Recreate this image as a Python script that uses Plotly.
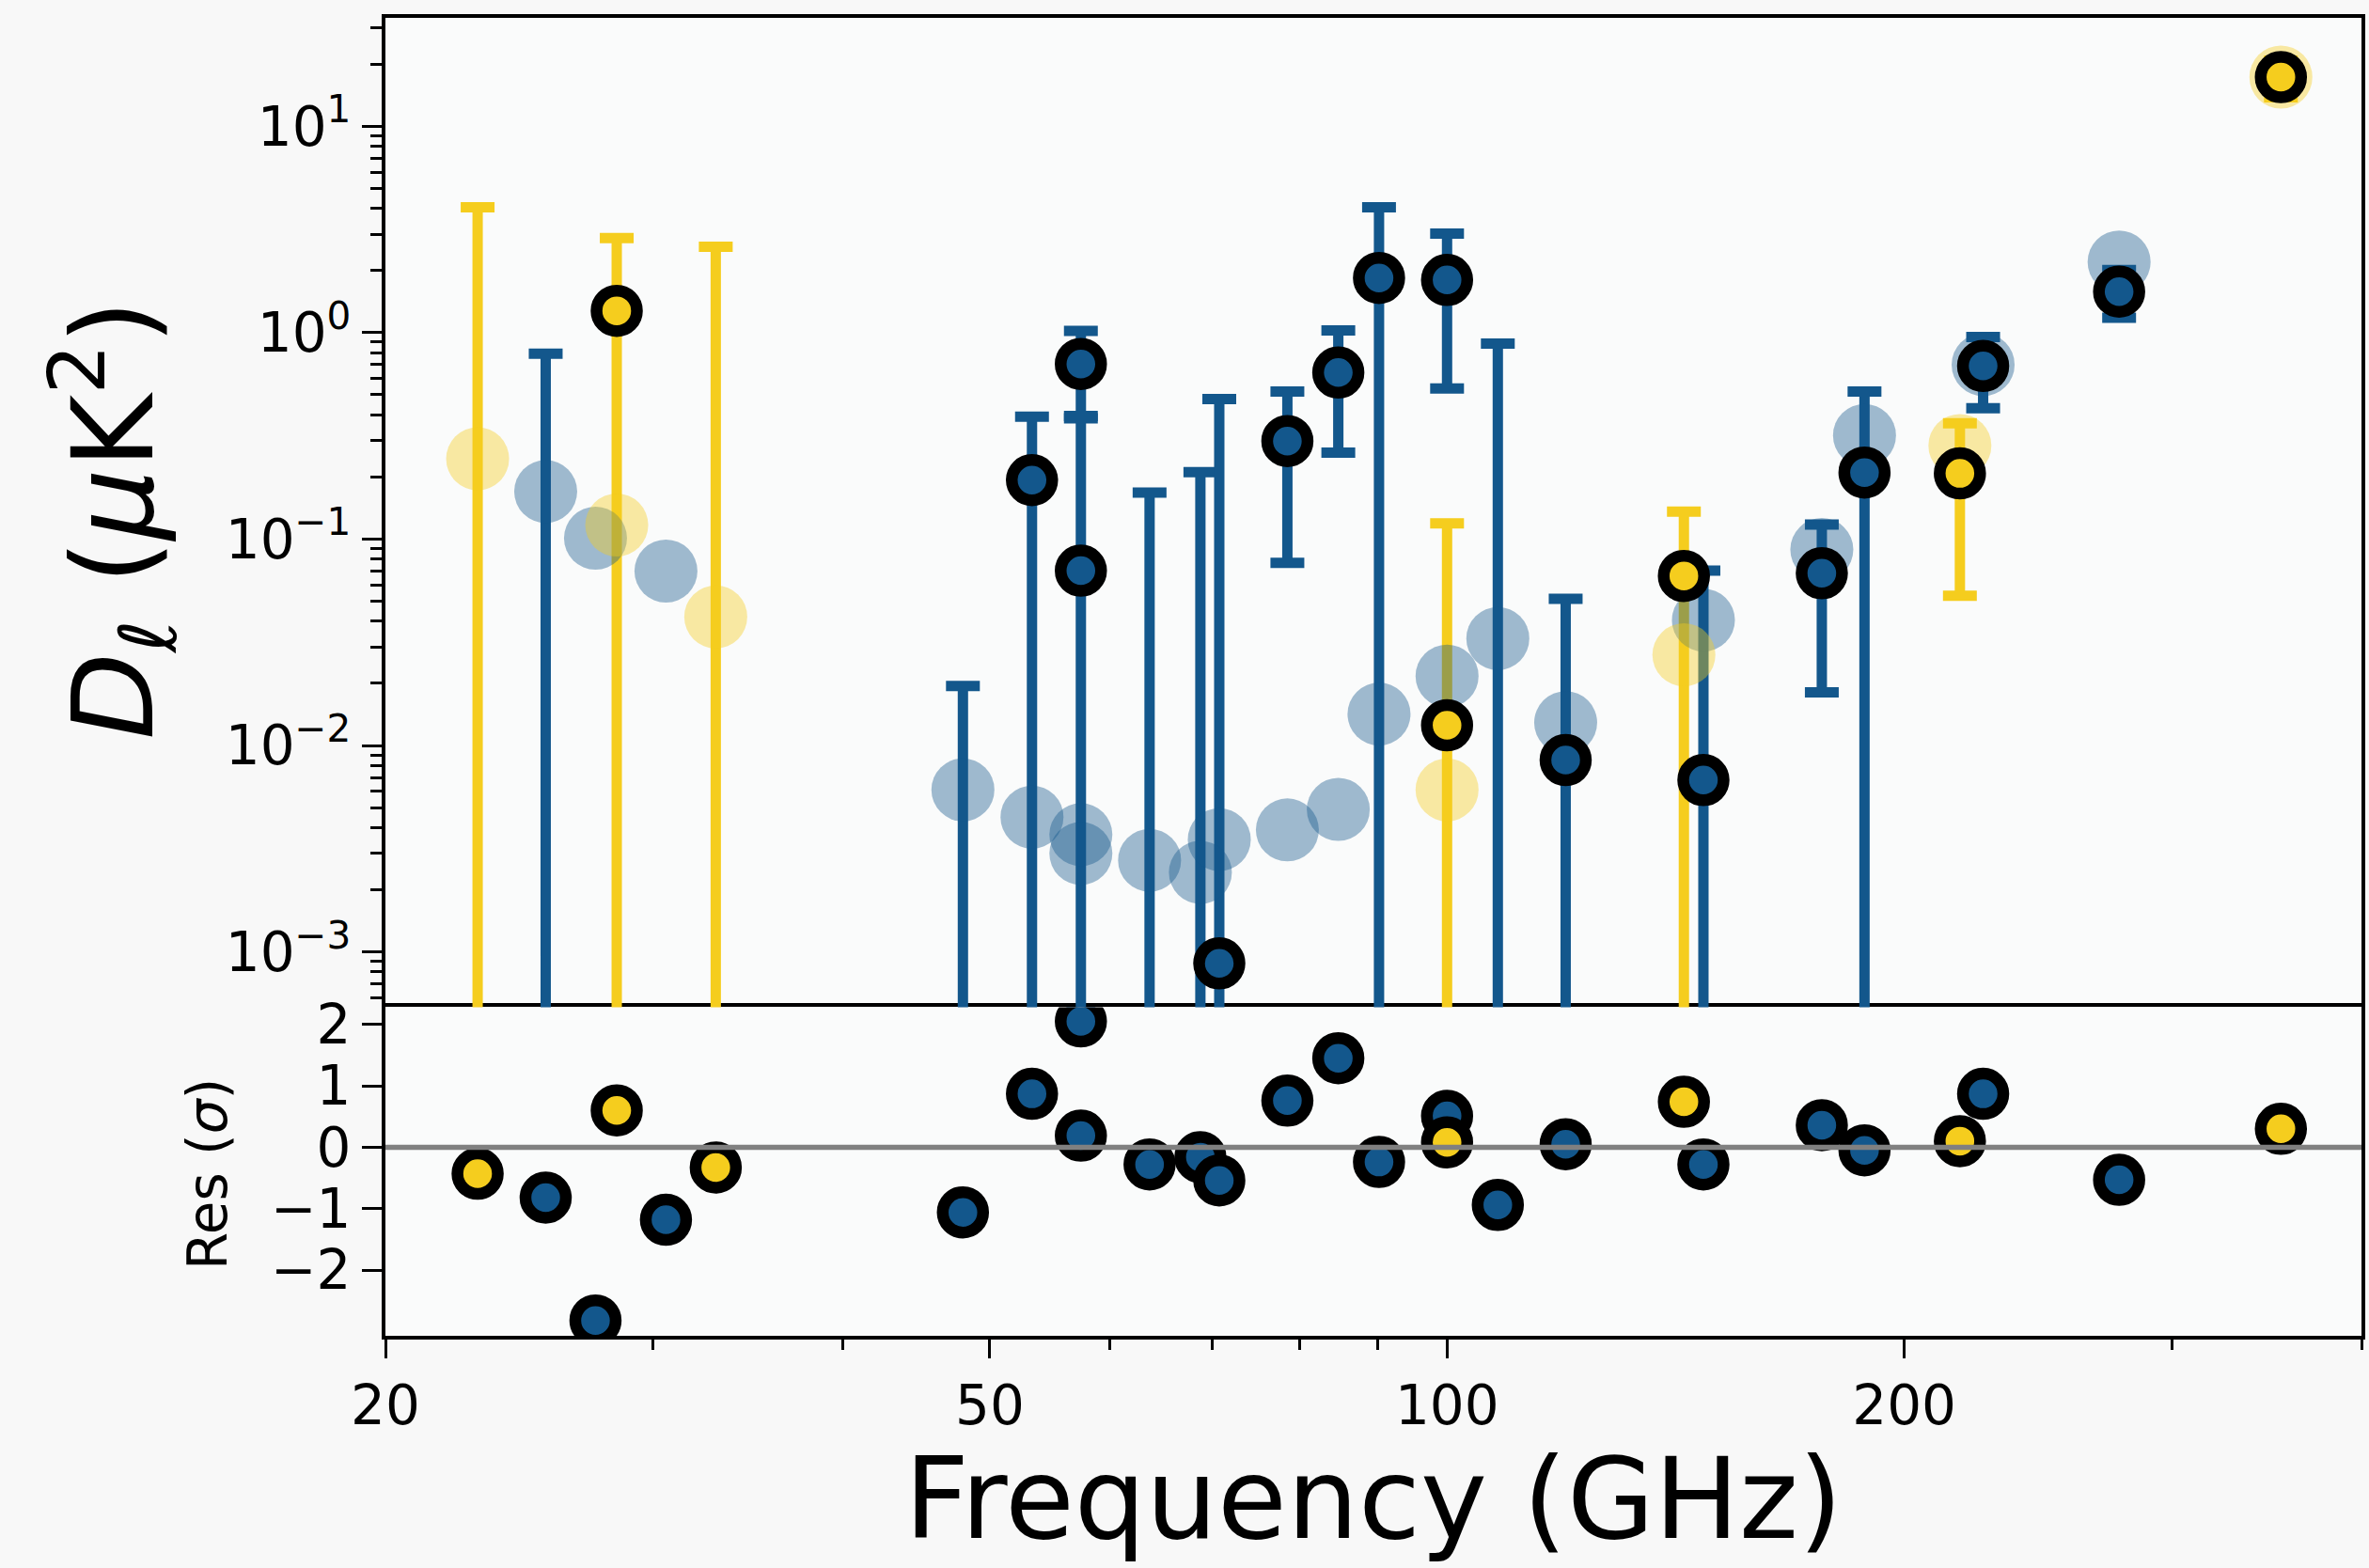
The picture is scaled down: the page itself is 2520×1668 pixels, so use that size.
import plotly.graph_objects as go

# ---------------- band powers: blue-coded bands ----------------
blue_freq = [25.5, 27.5, 30.6, 48.0, 53.3, 57.4, 57.4, 63.7, 68.8, 70.8, 78.5,
             84.8, 90.2, 100.0, 108.0, 119.7, 147.5, 176.5, 188.3, 225.4, 277.0]
# central value (None where it lies below zero / outside the log range)
blue_dl = [None, None, None, None, 0.193, 0.705, 0.0703, None, None, 0.00088, 0.2985,
           0.641, 1.84, 1.80, None, 0.0085, 0.0068, 0.0683, 0.21, 0.69, 1.58]
# top and bottom of the 1-sigma bar (0 = bar runs below zero)
blue_hi = [0.79, None, None, 0.0194, 0.392, 1.02, 0.395, 0.168, 0.211, 0.477, 0.518,
           1.026, 4.05, 3.02, 0.885, 0.0513, 0.0703, 0.1175, 0.518, 0.953, 2.01]
blue_lo = [0, None, None, 0, 0, 0.385, 0, 0, 0, 0, 0.0767,
           0.262, 0, 0.537, 0, 0, 0, 0.0181, 0, 0.431, 1.18]
blue_model = [0.170, 0.101, 0.070, 0.0061, 0.0045, 0.0030, 0.0037, 0.00278, 0.00243, 0.0035, 0.0039,
              0.0049, 0.0142, 0.0217, 0.033, 0.0129, 0.0405, 0.089, 0.318, 0.70, 2.20]
blue_res = [-0.82, -2.82, -1.18, -1.06, 0.87, 2.05, 0.19, -0.28, -0.16, -0.54, 0.76,
            1.45, -0.24, 0.51, -0.94, 0.05, -0.28, 0.36, -0.05, 0.87, -0.53]

# ---------------- band powers: yellow-coded bands ----------------
yellow_freq = [23.0, 28.4, 33.0, 100.0, 143.2, 217.6, 354.0]
yellow_dl = [None, 1.276, None, 0.01253, 0.0663, 0.208, 17.3]
yellow_hi = [4.05, 2.87, 2.61, 0.119, 0.136, 0.364, 20.8]
yellow_lo = [0, 0, 0, 0, 0, 0.0532, 13.8]
yellow_model = [0.245, 0.117, 0.042, 0.0061, 0.0275, 0.284, 17.3]
yellow_res = [-0.43, 0.60, -0.33, 0.08, 0.74, 0.10, 0.30]

# ---------------- axis ticks ----------------
x_major = [20, 50, 100, 200]
x_major_text = ["20", "50", "100", "200"]
x_minor = [30, 40, 60, 70, 80, 90, 300, 400]
dl_major = [1e-3, 1e-2, 1e-1, 1, 10]
dl_major_text = ["10<sup>−3</sup>", "10<sup>−2</sup>", "10<sup>−1</sup>",
                 "10<sup>0</sup>", "10<sup>1</sup>"]
res_major = [-2, -1, 0, 1, 2]

BLUE = "#13578c"
YELLOW = "#f5cd1e"
BLUE_T = "rgba(19,87,140,0.40)"
YELLOW_T = "rgba(245,205,30,0.40)"
FONT = "DejaVu Sans"


def bar_trace(freq, hi, lo, color):
    xs, ys, down = [], [], []
    for f, h, l in zip(freq, hi, lo):
        if h is None:
            continue
        xs.append(f)
        ys.append(h)
        down.append(h - l)
    return go.Scatter(
        x=xs, y=ys, mode="markers", xaxis="x2", yaxis="y2",
        marker=dict(size=1, color="rgba(0,0,0,0)"),
        error_y=dict(type="data", symmetric=False, array=[0] * len(xs),
                     arrayminus=down, color=color, thickness=11, width=18),
        hoverinfo="skip", showlegend=False)


def model_trace(freq, model, color):
    return go.Scatter(
        x=freq, y=model, mode="markers", xaxis="x2", yaxis="y2",
        marker=dict(size=67, color=color, line=dict(width=0)),
        showlegend=False)


def data_trace(freq, dl, color):
    xs = [f for f, d in zip(freq, dl) if d is not None]
    ys = [d for d in dl if d is not None]
    return go.Scatter(
        x=xs, y=ys, mode="markers", xaxis="x2", yaxis="y2",
        marker=dict(size=43, color=color, line=dict(color="black", width=12.5)),
        showlegend=False)


def res_trace(freq, res, color):
    return go.Scatter(
        x=freq, y=res, mode="markers", xaxis="x", yaxis="y",
        marker=dict(size=43, color=color, line=dict(color="black", width=12.5)),
        showlegend=False)


fig = go.Figure()
fig.add_trace(bar_trace(blue_freq, blue_hi, blue_lo, BLUE))
fig.add_trace(bar_trace(yellow_freq, yellow_hi, yellow_lo, YELLOW))
fig.add_trace(model_trace(blue_freq, blue_model, BLUE_T))
fig.add_trace(model_trace(yellow_freq, yellow_model, YELLOW_T))
fig.add_trace(data_trace(blue_freq, blue_dl, BLUE))
fig.add_trace(data_trace(yellow_freq, yellow_dl, YELLOW))
fig.add_trace(res_trace(blue_freq, blue_res, BLUE))
fig.add_trace(res_trace(yellow_freq, yellow_res, YELLOW))

line_common = dict(linecolor="black", linewidth=4, showgrid=False, zeroline=False,
                   tickcolor="black", tickwidth=3)
tick_font = dict(family=FONT, size=58, color="black")

split = 0.2493
fig.update_layout(
    width=2520, height=1668,
    margin=dict(l=410, r=4, t=15, b=247, pad=0),
    paper_bgcolor="#f8f8f8", plot_bgcolor="#fafbfb",
    font=dict(family=FONT, color="black"),
    # residual panel frequency axis (draws the shared panel divider as its top line)
    xaxis=dict(type="log", range=[1.30103, 2.60206], domain=[0, 1], anchor="y",
               showline=True, mirror=True,
               tickmode="array", tickvals=x_major, ticktext=x_major_text,
               ticks="outside", ticklen=20, tickfont=tick_font,
               minor=dict(tickmode="array", tickvals=x_minor, ticks="outside",
                          ticklen=11, tickwidth=3, tickcolor="black", showgrid=False),
               **line_common),
    # band-power panel frequency axis: only the top frame line
    xaxis2=dict(type="log", range=[1.30103, 2.60206], domain=[0, 1], anchor="y2",
                matches="x", side="top", showline=True, mirror=False,
                showticklabels=False, ticks="", **line_common),
    yaxis=dict(range=[-3.07, 2.28], domain=[0, split], anchor="x",
               showline=True, mirror=True,
               tickmode="array", tickvals=res_major, ticks="outside", ticklen=21,
               tickfont=tick_font, **line_common),
    yaxis2=dict(type="log", range=[-3.268, 1.525], domain=[split, 1], anchor="x2",
                showline=True, mirror=True,
                tickmode="array", tickvals=dl_major, ticktext=dl_major_text,
                ticks="outside", ticklen=21, tickfont=tick_font,
                minor=dict(tickmode="array",
                           tickvals=[m * 10.0 ** e for e in range(-4, 2) for m in range(2, 10)],
                           ticks="outside", ticklen=12, tickwidth=3,
                           tickcolor="black", showgrid=False),
                **line_common),
    shapes=[dict(type="line", xref="x domain", yref="y", x0=0, x1=1, y0=0, y1=0,
                 line=dict(color="#808080", width=5.5), layer="above")],
    annotations=[
        dict(text="<i>D</i><sub>ℓ</sub> (<i>μ</i>K<sup>2</sup>)", textangle=-90,
             xref="paper", yref="paper", x=-0.1377, y=0.619,
             xanchor="center", yanchor="middle", showarrow=False,
             font=dict(family=FONT, size=120, color="black")),
        dict(text="Res (<i>σ</i>)", textangle=-90,
             xref="paper", yref="paper", x=-0.0902, y=0.123,
             xanchor="center", yanchor="middle", showarrow=False,
             font=dict(family=FONT, size=58, color="black")),
        dict(text="Frequency (GHz)",
             xref="paper", yref="paper", x=0.5, y=-0.124, borderpad=0,
             xanchor="center", yanchor="middle", showarrow=False,
             font=dict(family=FONT, size=120, color="black")),
    ],
)

fig.write_html("out.html")
